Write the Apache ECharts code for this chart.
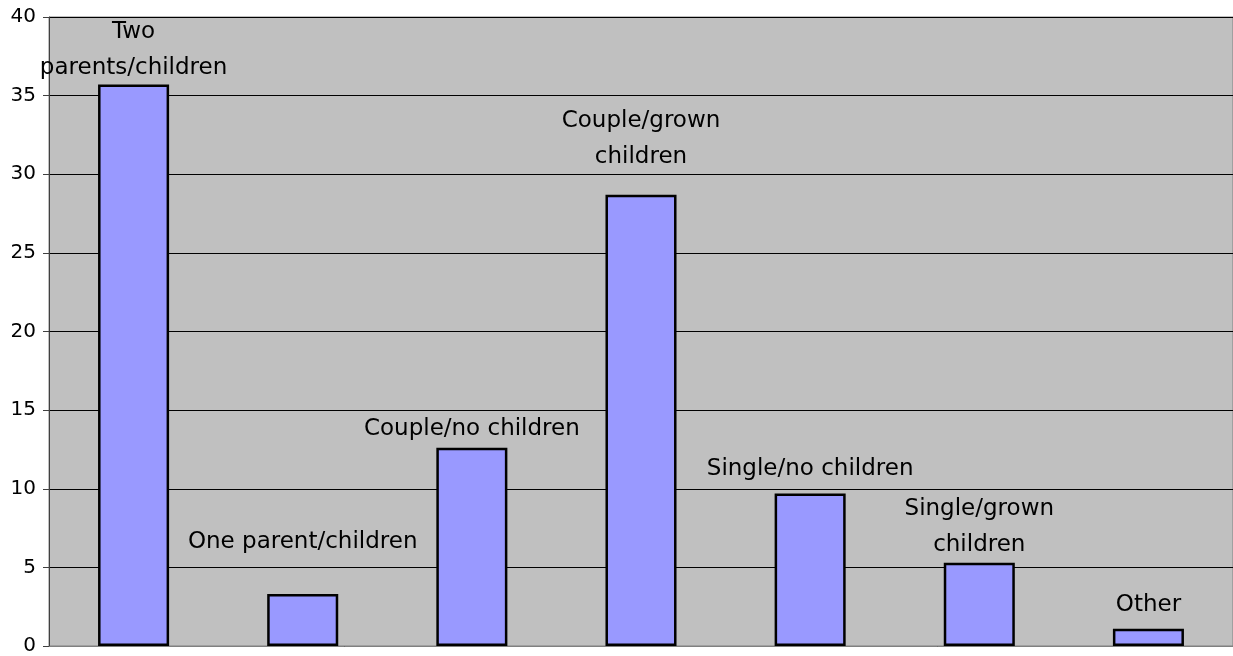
<!DOCTYPE html>
<html>
<head>
<meta charset="utf-8">
<script src="https://cdn.jsdelivr.net/npm/echarts@6/dist/echarts.min.js"></script>
<style>
  html, body { margin: 0; padding: 0; background: #ffffff; }
  #chart { width: 1233px; height: 656px; }
</style>
</head>
<body>
<div id="chart"></div>
<script>
// Household types and their shares
const categories = [
  'Two\nparents/children',
  'One parent/children',
  'Couple/no children',
  'Couple/grown\nchildren',
  'Single/no children',
  'Single/grown\nchildren',
  'Other'
];
const values = [35.7, 3.3, 12.6, 28.7, 9.7, 5.3, 1.1];
const yTicks = [0, 5, 10, 15, 20, 25, 30, 35, 40];

// Gap between each bar top and its label (pixels)
const labelGap = [-1, 34, 1, 20, 6, 0, 6];

const chart = echarts.init(document.getElementById('chart'), null, { renderer: 'canvas' });

const seriesData = values.map((v, i) => ({
  value: v,
  label: { distance: labelGap[i] }
}));

chart.setOption({
  animation: false,
  backgroundColor: '#ffffff',
  grid: {
    left: 49, right: 0, top: 17, bottom: 8,
    show: true,
    backgroundColor: '#c0c0c0',
    borderColor: '#808080',
    borderWidth: 1
  },
  xAxis: {
    type: 'category',
    data: categories,
    axisLine: { show: true, lineStyle: { color: '#808080', width: 1 } },
    axisTick: { show: false },
    axisLabel: { show: false },
    splitLine: { show: false }
  },
  yAxis: {
    type: 'value',
    min: yTicks[0],
    max: yTicks[yTicks.length - 1],
    interval: yTicks[1] - yTicks[0],
    axisLine: { show: true, lineStyle: { color: '#404040', width: 1 } },
    axisTick: { show: true, length: 6, lineStyle: { color: '#404040' } },
    axisLabel: {
      color: '#000000',
      fontFamily: 'DejaVu Sans',
      fontSize: 20,
      margin: 13
    },
    splitLine: { show: true, lineStyle: { color: '#000000', width: 1 } }
  },
  series: [{
    type: 'bar',
    data: seriesData,
    barWidth: '42%',
    itemStyle: {
      color: '#9999ff',
      borderColor: '#000000',
      borderWidth: 2.5
    },
    label: {
      show: true,
      position: 'top',
      formatter: p => p.name,
      color: '#000000',
      fontFamily: 'DejaVu Sans',
      fontSize: 23,
      lineHeight: 36,
      align: 'center'
    }
  }]
});
</script>
</body>
</html>
